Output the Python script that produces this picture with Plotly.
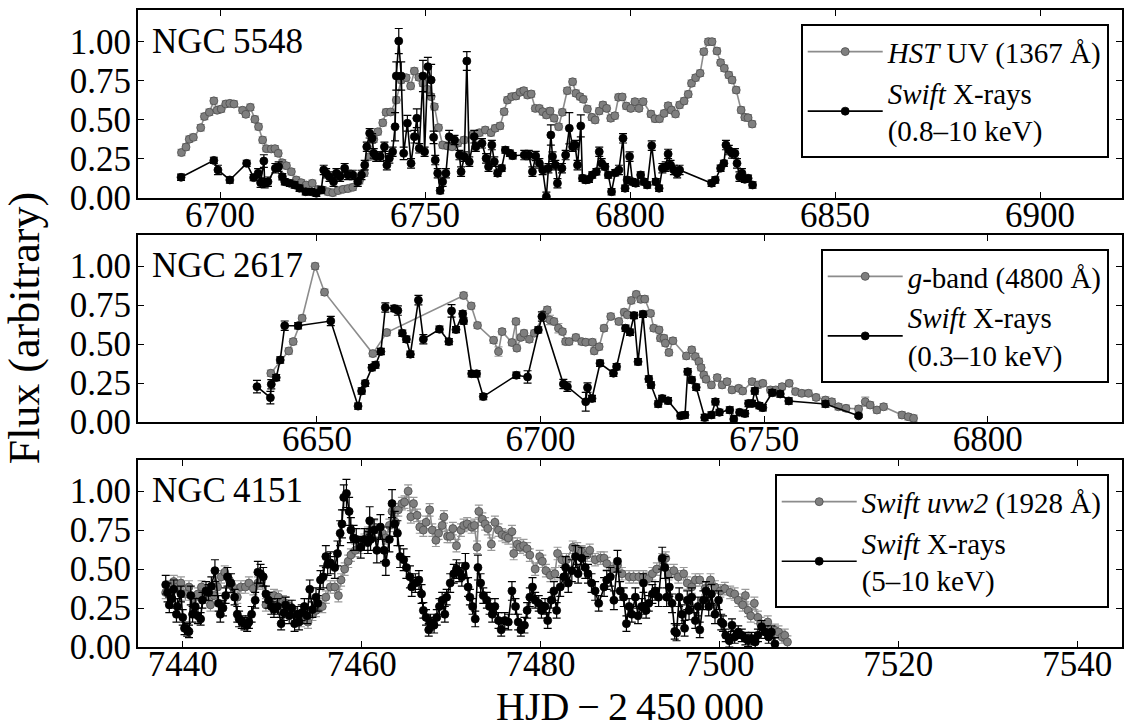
import plotly.graph_objects as go

# ---------------- DATA (time [HJD-2450000], normalised flux, error) ----------------
n5548_uv = [
    (6690.6, .29, .02), (6691.7, .325, .02), (6692.5, .375, .02), (6693.5, .387, .02), (6695.3, .449, .02),
    (6696.2, .52, .02), (6697.4, .547, .02), (6698.5, .62, .02), (6699.3, .56, .02), (6700.3, .568, .02),
    (6701.4, .60, .02), (6702.4, .604, .02), (6703.4, .60, .02), (6705.5, .56, .02), (6706.3, .534, .02),
    (6707.4, .579, .02), (6708.5, .502, .02), (6709.4, .455, .02), (6710.4, .37, .02), (6711.3, .315, .02),
    (6712.5, .313, .02), (6713.4, .315, .02), (6714.2, .285, .02), (6715.2, .225, .02), (6716.2, .206, .02),
    (6717.4, .168, .02), (6718.6, .115, .02), (6719.8, .098, .02), (6721.0, .083, .02), (6722.5, .094, .02),
    (6723.9, .055, .02), (6725.1, .051, .02), (6726.3, .04, .02), (6727.5, .034, .02), (6728.8, .047, .02),
    (6730.0, .055, .02), (6731.2, .06, .02), (6732.4, .068, .02), (6734.0, .11, .02), (6735.2, .158, .02),
    (6736.5, .264, .02), (6737.5, .375, .02), (6738.5, .423, .02), (6739.7, .48, .02), (6740.5, .547, .02),
    (6741.6, .549, .02), (6743.0, .625, .02), (6744.2, .753, .02), (6745.4, .768, .02), (6746.5, .715, .02),
    (6747.4, .81, .02), (6748.5, .77, .02), (6749.5, .732, .02), (6750.5, .694, .02), (6751.5, .647, .02),
    (6752.3, .583, .02), (6753.3, .449, .02), (6754.3, .338, .02), (6755.5, .332, .02), (6756.6, .327, .02),
    (6758.0, .35, .02), (6759.5, .37, .02), (6761.6, .402, .02), (6763.3, .417, .02), (6764.7, .434, .02),
    (6766.1, .417, .02), (6767.1, .445, .02), (6768.3, .46, .02), (6769.3, .551, .02), (6770.1, .625, .02),
    (6771.1, .647, .02), (6772.2, .651, .02), (6773.2, .675, .02), (6774.1, .685, .02), (6775.0, .657, .02),
    (6775.9, .664, .02), (6776.9, .572, .02), (6777.9, .572, .02), (6778.7, .551, .02), (6779.6, .53, .02),
    (6780.5, .555, .02), (6781.5, .509, .02), (6782.6, .455, .02), (6783.5, .547, .02), (6784.7, .685, .02),
    (6786.0, .742, .02), (6786.8, .668, .02), (6787.8, .647, .02), (6788.6, .63, .02), (6789.6, .568, .02),
    (6790.7, .515, .02), (6791.5, .498, .02), (6792.5, .555, .02), (6793.4, .594, .02), (6794.3, .572, .02),
    (6795.3, .509, .02), (6796.3, .525, .02), (6797.2, .643, .02), (6798.1, .645, .02), (6799.1, .587, .02),
    (6800.2, .572, .02), (6801.2, .615, .02), (6802.2, .572, .02), (6803.2, .615, .02), (6805.1, .536, .02),
    (6806.1, .506, .02), (6807.2, .506, .02), (6808.3, .54, .02), (6809.3, .589, .02), (6810.1, .561, .02),
    (6811.1, .536, .02), (6812.1, .594, .02), (6813.2, .619, .02), (6814.2, .662, .02), (6815.0, .732, .02),
    (6816.0, .768, .02), (6817.1, .796, .02), (6818.0, .934, .02), (6819.1, .998, .02), (6820.0, .998, .02),
    (6821.2, .938, .02), (6822.1, .864, .02), (6823.0, .828, .02), (6824.1, .785, .02), (6824.9, .753, .02),
    (6825.9, .689, .02), (6827.1, .561, .02), (6828.0, .515, .02), (6828.8, .512, .02), (6829.8, .472, .02),
]

n5548_xr = [
    (6690.5, .132, .02), (6698.5, .24, .02), (6699.5, .179, .03), (6702.4, .115, .02), (6706.5, .221, .02),
    (6708.2, .13, .02), (6709.3, .158, .03), (6709.9, .098, .03), (6710.7, .236, .04), (6710.9, .094, .03),
    (6711.7, .104, .03), (6713.5, .19, .03), (6714.3, .2, .03), (6715.2, .136, .02), (6715.8, .104, .02),
    (6717.0, .094, .02), (6718.2, .083, .02), (6719.4, .062, .02), (6720.9, .04, .02), (6722.3, .04, .02),
    (6723.5, .03, .02), (6724.7, .051, .02), (6725.3, .179, .03), (6725.9, .158, .03), (6726.7, .136, .03),
    (6727.7, .104, .03), (6728.4, .158, .03), (6729.3, .136, .03), (6730.4, .19, .03), (6731.2, .147, .03),
    (6732.4, .147, .03), (6733.6, .104, .03), (6734.5, .147, .03), (6735.3, .21, .03), (6735.8, .327, .03),
    (6736.5, .413, .03), (6737.1, .381, .03), (6737.5, .285, .03), (6738.1, .264, .03), (6739.1, .264, .03),
    (6740.1, .327, .03), (6740.7, .21, .03), (6741.3, .253, .03), (6742.1, .295, .03), (6742.7, .455, .09),
    (6743.0, .779, .09), (6743.6, 1.002, .08), (6744.2, .779, .09), (6744.8, .285, .04), (6745.7, .477, .05),
    (6746.6, .221, .03), (6747.4, .391, .04), (6748.0, .509, .06), (6748.6, .317, .03), (6749.5, .779, .1),
    (6749.9, .295, .03), (6750.7, .838, .06), (6751.5, .753, .1), (6752.1, .387, .04), (6752.5, .242, .03),
    (6753.1, .158, .03), (6753.7, .047, .02), (6754.3, .104, .03), (6755.1, .158, .03), (6755.9, .391, .04),
    (6757.2, .37, .03), (6758.4, .274, .03), (6758.8, .168, .03), (6759.6, .264, .03), (6760.2, .874, .06),
    (6760.8, .232, .03), (6762.0, .391, .04), (6762.4, .327, .03), (6763.9, .349, .03), (6764.9, .253, .03),
    (6765.5, .2, .03), (6766.3, .338, .03), (6766.9, .232, .03), (6767.7, .158, .02), (6768.7, .19, .02),
    (6769.6, .306, .02), (6770.7, .285, .02), (6771.4, .27, .02), (6774.2, .274, .03), (6775.3, .274, .03),
    (6776.2, .168, .03), (6777.0, .268, .03), (6777.9, .221, .03), (6778.7, .179, .03), (6779.6, .008, .03),
    (6780.1, .19, .03), (6780.7, .402, .065), (6781.1, .264, .03), (6781.8, .21, .03), (6782.3, .094, .03),
    (6783.4, .19, .03), (6784.3, .274, .03), (6785.2, .445, .1), (6786.0, .327, .03), (6786.6, .338, .03),
    (6787.2, .21, .03), (6788.0, .46, .07), (6788.4, .126, .02), (6789.2, .115, .02), (6790.0, .119, .02),
    (6790.8, .147, .02), (6791.8, .168, .02), (6792.5, .295, .03), (6793.1, .221, .03), (6793.9, .2, .02),
    (6794.7, .147, .02), (6795.5, .04, .02), (6796.4, .161, .02), (6797.3, .179, .03), (6798.3, .381, .03),
    (6798.8, .062, .02), (6799.3, .115, .02), (6799.9, .264, .03), (6800.6, .104, .02), (6801.4, .094, .02),
    (6802.6, .147, .02), (6803.4, .104, .02), (6804.2, .083, .02), (6805.3, .334, .03), (6806.3, .104, .02),
    (6807.1, .062, .02), (6807.9, .19, .03), (6808.7, .2, .03), (6809.3, .281, .03), (6809.9, .21, .03),
    (6810.7, .179, .03), (6811.5, .158, .03), (6812.1, .179, .03), (6819.9, .094, .02), (6820.8, .115, .02),
    (6822.1, .19, .02), (6822.9, .221, .02), (6823.4, .338, .03), (6824.1, .306, .03), (6824.9, .285, .03),
    (6825.6, .285, .03), (6826.1, .221, .03), (6826.7, .136, .03), (6827.3, .158, .03), (6828.0, .119, .02),
    (6828.8, .126, .02), (6829.9, .083, .02),
]

n2617_g = [
    (6639.7, .313, .02), (6643.7, .456, .02), (6644.7, .516, .02), (6646.7, .666, .02), (6649.6, 1.0, .02),
    (6651.7, .833, .02), (6662.5, .439, .02), (6665.6, .574, .02), (6682.8, .812, .02), (6684.5, .745, .02),
    (6685.9, .62, .02), (6689.5, .525, .02), (6690.6, .452, .03), (6691.4, .58, .02), (6693.6, .51, .02),
    (6694.5, .645, .02), (6694.7, .474, .02), (6695.6, .543, .02), (6696.3, .57, .02), (6697.5, .531, .02),
    (6698.6, .57, .02), (6700.8, .692, .02), (6701.5, .72, .02), (6702.1, .655, .03), (6703.0, .645, .02),
    (6704.0, .602, .03), (6704.9, .58, .02), (6705.6, .516, .02), (6706.4, .516, .02), (6707.9, .543, .02),
    (6709.2, .516, .02), (6710.1, .512, .02), (6711.6, .512, .02), (6712.0, .456, .02), (6713.1, .483, .02),
    (6714.2, .602, .02), (6715.7, .677, .02), (6717.5, .645, .02), (6718.7, .705, .02), (6719.4, .688, .02),
    (6720.3, .78, .02), (6721.4, .819, .02), (6722.4, .787, .02), (6723.3, .789, .02), (6724.6, .697, .02),
    (6725.3, .602, .02), (6726.5, .591, .02), (6726.8, .538, .02), (6727.6, .538, .02), (6727.9, .506, .02),
    (6728.7, .446, .02), (6729.6, .521, .02), (6732.6, .424, .02), (6733.8, .463, .02), (6734.6, .42, .02),
    (6735.4, .388, .02), (6735.9, .349, .02), (6736.5, .302, .02), (6737.0, .274, .02), (6738.2, .238, .02),
    (6739.5, .285, .02), (6740.6, .238, .02), (6741.7, .259, .02), (6742.8, .206, .02), (6744.3, .216, .02),
    (6745.2, .199, .02), (6747.3, .259, .02), (6748.6, .238, .02), (6749.7, .248, .02), (6751.4, .206, .02),
    (6752.6, .206, .02), (6754.0, .227, .02), (6755.6, .248, .02), (6757.0, .195, .02), (6758.4, .184, .02),
    (6759.9, .184, .02), (6761.6, .158, .02), (6763.7, .141, .02), (6765.1, .13, .02), (6766.6, .098, .02),
    (6768.3, .088, .02), (6771.1, .084, .02), (6772.6, .13, .03), (6773.7, .109, .02), (6775.2, .077, .02),
    (6776.7, .098, .02), (6780.8, .045, .02), (6782.2, .034, .02), (6783.4, .024, .02),
]

n2617_xr = [
    (6636.6, .227, .04), (6639.6, .156, .04), (6639.8, .242, .03), (6640.9, .285, .02), (6641.8, .398, .02),
    (6642.8, .618, .03), (6645.8, .618, .02), (6653.1, .648, .03), (6659.2, .102, .02), (6660.0, .199, .02),
    (6660.8, .248, .02), (6662.3, .349, .02), (6663.1, .366, .02), (6664.3, .452, .02), (6665.3, .735, .03),
    (6667.3, .728, .02), (6668.1, .715, .03), (6669.1, .57, .02), (6670.0, .531, .02), (6670.9, .435, .02),
    (6672.7, .782, .03), (6673.8, .531, .03), (6677.4, .595, .02), (6679.5, .516, .02), (6680.1, .713, .04),
    (6681.1, .593, .02), (6682.6, .694, .02), (6682.8, .648, .02), (6684.6, .31, .02), (6685.7, .31, .02),
    (6687.2, .163, .02), (6694.6, .3, .02), (6697.1, .289, .04), (6699.5, .591, .02), (6700.3, .677, .03),
    (6705.1, .244, .03), (6706.0, .227, .03), (6710.1, .13, .06), (6710.5, .221, .03), (6711.5, .151, .02),
    (6713.3, .377, .02), (6716.3, .313, .02), (6717.0, .355, .02), (6719.0, .602, .02), (6720.0, .576, .02),
    (6720.9, .683, .02), (6721.8, .387, .02), (6722.9, .692, .02), (6724.2, .276, .02), (6724.7, .238, .02),
    (6726.3, .116, .02), (6727.2, .151, .02), (6728.5, .137, .02), (6731.3, .04, .02), (6732.3, .045, .02),
    (6732.9, .323, .02), (6733.8, .27, .02), (6734.8, .223, .02), (6736.7, .029, .02), (6738.2, .045, .02),
    (6739.1, .13, .02), (6740.0, .062, .02), (6742.3, .077, .02), (6743.2, .019, .02), (6744.5, .062, .02),
    (6745.7, .054, .02), (6746.5, .119, .02), (6747.3, .119, .02), (6747.9, .199, .02), (6748.9, .105, .02),
    (6749.7, .092, .02), (6751.8, .188, .02), (6753.6, .18, .02), (6755.5, .135, .02), (6763.7, .116, .02),
    (6771.1, .04, .01),
]

n4151_uv = [
    (7438.1, .35, .04), (7438.6, .385, .04), (7439.0, .42, .04), (7439.4, .385, .04), (7439.8, .41, .04),
    (7440.3, .34, .04), (7440.7, .385, .04), (7441.2, .31, .04), (7441.7, .34, .04), (7442.1, .385, .04),
    (7442.5, .32, .04), (7443.1, .27, .04), (7443.5, .33, .04), (7443.9, .385, .04), (7444.3, .45, .04),
    (7444.7, .48, .04), (7445.2, .43, .04), (7445.6, .385, .04), (7446.1, .32, .04), (7446.5, .385, .04),
    (7447.0, .385, .04), (7447.4, .41, .04), (7447.9, .375, .04), (7448.4, .41, .04), (7448.8, .42, .04),
    (7449.3, .27, .04), (7449.8, .31, .04), (7450.2, .33, .04), (7450.7, .32, .04), (7451.2, .29, .04),
    (7451.5, .28, .04), (7452.0, .26, .04), (7452.5, .21, .04), (7452.8, .19, .04), (7453.2, .17, .04),
    (7453.6, .21, .04), (7454.0, .16, .04), (7454.5, .21, .04), (7454.9, .235, .04), (7455.2, .27, .04),
    (7455.6, .26, .04), (7456.0, .32, .04), (7456.5, .385, .04), (7457.0, .385, .04), (7457.4, .33, .04),
    (7457.7, .43, .04), (7458.1, .50, .04), (7458.5, .55, .04), (7458.8, .59, .04), (7459.3, .62, .04),
    (7459.8, .64, .04), (7460.3, .685, .04), (7460.7, .73, .04), (7461.0, .73, .04), (7461.4, .77, .04),
    (7461.9, .75, .04), (7462.3, .73, .04), (7462.7, .70, .04), (7463.1, .78, .04), (7463.4, .87, .04),
    (7463.8, .80, .04), (7464.1, .88, .04), (7464.5, .92, .04), (7464.8, .93, .04), (7465.2, 1.0, .04),
    (7465.5, .835, .04), (7465.8, .92, .04), (7466.2, .845, .04), (7466.5, .77, .04), (7466.9, .75, .04),
    (7467.2, .80, .04), (7467.6, .88, .04), (7467.9, .75, .04), (7468.3, .685, .04), (7468.6, .73, .04),
    (7469.0, .78, .04), (7469.2, .835, .04), (7469.6, .71, .04), (7469.9, .71, .04), (7470.2, .76, .04),
    (7470.6, .65, .04), (7471.1, .75, .04), (7471.4, .78, .04), (7471.8, .79, .04), (7472.3, .77, .04),
    (7472.6, .78, .04), (7472.9, .64, .04), (7473.1, .87, .04), (7473.5, .82, .04), (7473.8, .79, .04),
    (7474.1, .76, .04), (7474.5, .66, .04), (7474.9, .80, .04), (7475.3, .75, .04), (7475.7, .72, .04),
    (7476.1, .71, .04), (7476.4, .70, .04), (7476.8, .74, .04), (7477.0, .60, .04), (7477.4, .66, .04),
    (7477.7, .64, .04), (7478.1, .65, .04), (7478.5, .63, .04), (7478.8, .59, .04), (7479.4, .50, .04),
    (7479.9, .58, .04), (7480.2, .55, .04), (7480.6, .49, .04), (7481.1, .46, .04), (7481.6, .47, .04),
    (7481.9, .60, .04), (7482.4, .56, .04), (7482.9, .56, .04), (7483.6, .64, .04), (7484.1, .63, .04),
    (7484.6, .61, .04), (7485.2, .59, .04), (7485.5, .62, .04), (7486.1, .56, .04), (7486.7, .57, .04),
    (7487.1, .57, .04), (7487.4, .535, .04), (7488.0, .50, .04), (7488.6, .525, .04), (7489.1, .47, .04),
    (7489.9, .45, .04), (7490.4, .45, .04), (7491.0, .45, .04), (7491.5, .45, .04), (7492.1, .44, .04),
    (7492.5, .47, .04), (7493.0, .50, .04), (7493.6, .56, .04), (7494.0, .57, .04), (7494.3, .47, .04),
    (7494.9, .49, .04), (7495.4, .45, .04), (7496.0, .47, .04), (7496.4, .41, .04), (7496.9, .385, .04),
    (7497.3, .43, .04), (7497.8, .43, .04), (7498.4, .375, .04), (7499.0, .43, .04), (7499.5, .385, .04),
    (7500.1, .36, .04), (7500.6, .375, .04), (7501.2, .35, .04), (7501.7, .34, .04), (7502.1, .30, .04),
    (7502.6, .27, .04), (7502.9, .33, .04), (7503.2, .235, .04), (7503.5, .20, .04), (7503.9, .28, .04),
    (7504.3, .19, .04), (7504.6, .15, .04), (7505.0, .12, .04), (7505.4, .16, .04), (7505.8, .085, .04),
    (7506.2, .107, .04), (7506.6, .096, .04), (7507.0, .064, .04), (7507.3, .075, .04), (7507.6, .032, .04),
]

n4151_xr = [
    (7438.1, .40, .06), (7438.3, .35, .06), (7438.5, .27, .05), (7438.8, .31, .06), (7439.0, .37, .06),
    (7439.3, .21, .05), (7439.4, .26, .05), (7439.8, .34, .05), (7440.0, .19, .05), (7440.2, .12, .04),
    (7440.5, .11, .04), (7440.7, .10, .04), (7440.9, .33, .06), (7441.1, .21, .05), (7441.4, .26, .05),
    (7441.7, .20, .05), (7442.0, .18, .04), (7442.2, .30, .05), (7442.6, .36, .06), (7442.9, .35, .05),
    (7443.2, .39, .06), (7443.6, .49, .07), (7444.0, .28, .05), (7444.2, .21, .05), (7444.5, .25, .05),
    (7444.8, .33, .05), (7445.0, .45, .06), (7445.4, .41, .06), (7445.8, .32, .05), (7446.1, .21, .05),
    (7446.3, .18, .05), (7446.6, .16, .04), (7446.9, .15, .04), (7447.2, .14, .04), (7447.4, .16, .04),
    (7447.7, .21, .05), (7448.1, .30, .05), (7448.4, .48, .07), (7448.7, .47, .06), (7449.0, .45, .06),
    (7449.3, .34, .05), (7449.6, .30, .05), (7449.9, .26, .05), (7450.2, .24, .05), (7450.6, .26, .05),
    (7451.0, .15, .04), (7451.3, .22, .05), (7451.5, .27, .05), (7451.9, .20, .05), (7452.2, .25, .05),
    (7452.5, .15, .05), (7452.8, .21, .05), (7453.0, .16, .05), (7453.3, .22, .05), (7453.6, .26, .05),
    (7453.9, .20, .05), (7454.2, .37, .06), (7454.5, .24, .05), (7454.9, .32, .06), (7455.1, .28, .05),
    (7455.4, .43, .06), (7455.7, .45, .07), (7456.0, .58, .07), (7456.2, .53, .07), (7456.5, .54, .07),
    (7457.0, .51, .07), (7457.3, .60, .08), (7457.6, .73, .08), (7457.8, .79, .09), (7458.0, .96, .08),
    (7458.3, .985, .09), (7458.6, .87, .09), (7458.8, .75, .08), (7459.1, .70, .08), (7459.4, .69, .07),
    (7459.9, .64, .07), (7460.3, .69, .07), (7460.7, .67, .07), (7460.9, .81, .09), (7461.0, .69, .07),
    (7461.4, .75, .07), (7461.7, .62, .08), (7462.1, .77, .08), (7462.5, .62, .07), (7462.7, .54, .08),
    (7463.1, .69, .08), (7463.4, .92, .09), (7463.7, .79, .08), (7464.0, .73, .08), (7464.3, .58, .07),
    (7464.7, .56, .07), (7465.0, .51, .07), (7465.4, .45, .07), (7465.6, .385, .06), (7466.0, .41, .06),
    (7466.4, .43, .06), (7466.7, .34, .06), (7466.9, .235, .05), (7467.2, .19, .05), (7467.5, .11, .04),
    (7467.7, .16, .05), (7468.1, .14, .05), (7468.4, .19, .05), (7468.7, .26, .05), (7469.0, .30, .05),
    (7469.3, .21, .05), (7469.5, .32, .05), (7469.9, .41, .06), (7470.3, .47, .06), (7470.6, .50, .06),
    (7470.9, .48, .06), (7471.2, .45, .06), (7471.6, .52, .08), (7471.9, .385, .06), (7472.1, .32, .05),
    (7472.4, .26, .05), (7472.7, .18, .05), (7473.0, .51, .08), (7473.3, .41, .06), (7473.6, .33, .05),
    (7474.0, .30, .05), (7474.3, .26, .05), (7474.6, .21, .05), (7474.9, .26, .05), (7475.3, .17, .05),
    (7475.6, .11, .04), (7476.0, .17, .05), (7476.4, .16, .05), (7476.8, .36, .06), (7477.2, .26, .05),
    (7477.5, .16, .05), (7477.8, .11, .04), (7478.2, .14, .05), (7478.5, .235, .05), (7478.8, .32, .06),
    (7479.1, .385, .06), (7479.4, .30, .05), (7479.8, .28, .05), (7480.1, .235, .05), (7480.5, .26, .05),
    (7480.8, .17, .05), (7481.2, .30, .05), (7481.5, .36, .06), (7481.8, .235, .05), (7482.2, .385, .06),
    (7482.6, .45, .06), (7482.8, .51, .07), (7483.1, .41, .06), (7483.5, .49, .07), (7483.9, .58, .07),
    (7484.2, .47, .06), (7484.6, .57, .07), (7485.0, .51, .07), (7485.3, .47, .06), (7485.7, .41, .06),
    (7486.1, .36, .06), (7486.5, .28, .05), (7487.1, .385, .06), (7487.4, .43, .06), (7487.8, .45, .06),
    (7488.2, .30, .06), (7488.6, .55, .07), (7488.9, .36, .06), (7489.3, .32, .06), (7489.6, .15, .05),
    (7489.9, .26, .05), (7490.2, .21, .05), (7490.6, .32, .06), (7490.9, .20, .05), (7491.3, .26, .05),
    (7491.5, .41, .06), (7491.8, .235, .05), (7492.1, .28, .05), (7492.5, .34, .06), (7492.8, .36, .06),
    (7493.2, .32, .06), (7493.6, .57, .07), (7493.9, .51, .07), (7494.1, .32, .06), (7494.4, .385, .06),
    (7494.7, .28, .06), (7495.0, .10, .05), (7495.2, .09, .05), (7495.5, .32, .06), (7495.8, .21, .06),
    (7496.1, .12, .05), (7496.4, .30, .06), (7496.6, .235, .06), (7496.9, .32, .06), (7497.3, .17, .05),
    (7497.6, .26, .06), (7497.8, .11, .05), (7498.2, .30, .06), (7498.5, .36, .06), (7498.8, .26, .06),
    (7499.1, .34, .06), (7499.5, .21, .06), (7499.9, .30, .06), (7500.2, .16, .05), (7500.4, .15, .05),
    (7500.7, .075, .04), (7501.1, .04, .04), (7501.4, .14, .04), (7501.7, .064, .04), (7502.1, .096, .04),
    (7502.5, .075, .04), (7502.9, .054, .04), (7503.2, .043, .04), (7503.6, .054, .04), (7504.0, .032, .04),
    (7504.3, .075, .04), (7504.7, .13, .04), (7505.1, .096, .04), (7505.5, .064, .04), (7505.8, .096, .04),
    (7506.2, .02, .04),
]

y_tick_vals = [0.0, 0.25, 0.5, 0.75, 1.0]
y_tick_text = ["0.00", "0.25", "0.50", "0.75", "1.00"]
x_ranges = [(6680, 6920), (6610, 6830), (7435, 7545)]
x_dticks = [50, 50, 20]
obj_names = ["NGC\u20095548", "NGC\u20092617", "NGC\u20094151"]
uv_labels = ["<i>HST</i> UV (1367 \u00c5)", "<i>g</i>-band (4800 \u00c5)", "<i>Swift uvw2</i> (1928 \u00c5)"]
xr_labels = ["<i>Swift</i> X-rays<br>(0.8\u201310 keV)", "<i>Swift</i> X-rays<br>(0.3\u201310 keV)",
             "<i>Swift</i> X-rays<br>(5\u201310 keV)"]

# ---------------- FIGURE ----------------
FONT = "Liberation Serif, Times New Roman, serif"
GRAY = "#7f7f7f"
fig = go.Figure()

series = [(n5548_uv, n5548_xr), (n2617_g, n2617_xr), (n4151_uv, n4151_xr)]
legend_ids = ["legend", "legend2", "legend3"]
for i, (uv, xr) in enumerate(series):
    ax = "" if i == 0 else str(i + 1)
    for data, name, col, ecol, lcol, lw in [
        (uv, uv_labels[i], GRAY, "#9a9a9a", "#8c8c8c", 1.6),
        (xr, xr_labels[i], "black", "black", "black", 1.6),
    ]:
        t = [d[0] for d in data]
        f = [d[1] for d in data]
        e = [d[2] for d in data]
        fig.add_trace(go.Scatter(
            x=t, y=f, mode="lines+markers", name=name,
            xaxis="x" + ax, yaxis="y" + ax, legend=legend_ids[i],
            line=dict(color=lcol, width=lw),
            marker=dict(size=8, color=col, line=dict(color="#4d4d4d" if col == GRAY else "black", width=0.8)),
            error_y=dict(type="data", array=e, visible=True, color=ecol, thickness=1.2, width=4),
        ))

domains = [(0.7049, 1.0), (0.3532, 0.6468), (0.0, 0.2936)]
axis_common = dict(showline=True, linecolor="black", linewidth=2, mirror="allticks",
                   ticks="inside", ticklen=6, tickwidth=1, tickcolor="black",
                   showgrid=False, zeroline=False,
                   tickfont=dict(family=FONT, size=35, color="black"))
layout = {}
for i in range(3):
    ax = "" if i == 0 else str(i + 1)
    layout["xaxis" + ax] = dict(axis_common, range=list(x_ranges[i]), dtick=x_dticks[i], tick0=0,
                                anchor="y" + ax, domain=[0, 1], ticklabelstandoff=-15)
    layout["yaxis" + ax] = dict(axis_common, range=[0, 1.2], tickvals=y_tick_vals, ticktext=y_tick_text,
                                anchor="x" + ax, domain=list(domains[i]), ticklabelstandoff=-2)
fig.update_layout(**layout)

legend_tops = [0.9776, 0.6248, 0.2711]
leg_common = dict(x=0.9865, xanchor="right", yanchor="top", bordercolor="black", borderwidth=2,
                  bgcolor="white", font=dict(family=FONT, size=29, color="black"),
                  itemwidth=75, tracegroupgap=0)
fig.update_layout(
    legend=dict(leg_common, y=legend_tops[0]),
    legend2=dict(leg_common, y=legend_tops[1]),
    legend3=dict(leg_common, y=legend_tops[2]),
)

annotations = []
for i in range(3):
    ax = "" if i == 0 else str(i + 1)
    annotations.append(dict(text=obj_names[i], xref="x" + ax + " domain", yref="y" + ax + " domain",
                            x=0.012, y=0.835, xanchor="left", yanchor="middle", showarrow=False,
                            font=dict(family=FONT, size=35, color="black")))
annotations.append(dict(text="Flux (arbitrary)", xref="paper", yref="paper", x=-0.115, y=0.5,
                        xanchor="center", yanchor="middle", textangle=-90, showarrow=False,
                        font=dict(family=FONT, size=44, color="black")))
annotations.append(dict(text="HJD\u2009\u2212\u20092\u2009450\u2009000", xref="paper", yref="paper", x=0.5, y=-0.093,
                        xanchor="center", yanchor="middle", showarrow=False,
                        font=dict(family=FONT, size=40, color="black")))

fig.update_layout(
    width=1125, height=728, autosize=False,
    margin=dict(l=138, r=1, t=10, b=81),
    paper_bgcolor="white", plot_bgcolor="white",
    annotations=annotations,
)
fig.write_html("out.html")
